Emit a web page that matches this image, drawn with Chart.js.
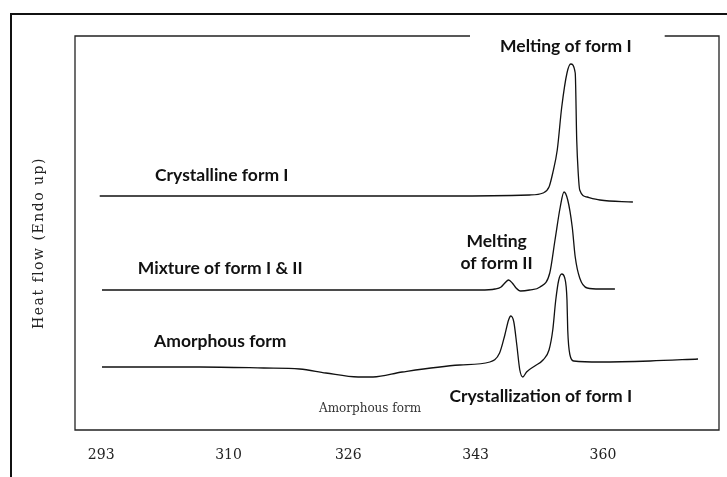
<!DOCTYPE html>
<html>
<head>
<meta charset="utf-8">
<script src="https://cdn.jsdelivr.net/npm/chart.js@4.4.1/dist/chart.umd.min.js"></script>
<style>
  html, body { margin: 0; padding: 0; background: #fff; }
  #wrap { position: relative; width: 727px; height: 477px; }
  #frame { position: absolute; left: 10px; top: 13px; right: 0; bottom: 0;
           border-left: 2px solid #111; border-top: 2px solid #111; pointer-events: none; }
</style>
</head>
<body>
<div id="wrap">
  <canvas id="dsc" width="727" height="477"></canvas>
  <div id="frame"></div>
</div>
<script>
// temperature ticks on the x axis
const tempTicks = [293, 310, 326, 343, 360];

// curves (x = temperature, y = heat flow, arbitrary units)
const crystallineT = [292.8, 319.5, 339.6, 350.2, 352.0, 352.8, 353.3, 353.9, 354.5, 355.2, 355.7, 356.3, 356.5, 356.7, 356.9, 357.9, 359.6, 364.0];
const crystallineQ = [234, 234, 234, 235, 237, 243, 257, 280, 323, 357, 366, 357, 290, 257, 240, 233, 230, 228];

const mixtureT = [293.1, 319.5, 343.6, 345.6, 346.4, 346.9, 347.4, 347.9, 348.4, 349.0, 350.2, 351.6, 352.9, 353.6, 354.3, 354.8, 355.3, 355.9, 356.3, 356.9, 357.9, 359.6, 361.6];
const mixtureQ = [140, 140, 140, 141, 143, 147, 150, 147, 142, 139, 140, 143, 157, 190, 223, 238, 230, 203, 173, 152, 142, 141, 141];

const amorphousT = [293.1, 306.2, 314.7, 319.5, 323.0, 327.3, 329.3, 333.2, 340.9, 344.9, 346.2, 346.9, 347.4, 347.7, 348.1, 348.5, 348.9, 349.3, 349.8, 350.9, 352.0, 352.8, 353.3, 353.7, 354.1, 354.5, 354.9, 355.2, 355.3, 355.6, 356.1, 359.6, 366.3, 372.7];
const amorphousQ = [63, 63, 62, 61, 57, 53, 53, 58, 65, 68, 77, 95, 110, 114, 108, 85, 60, 53, 58, 64, 70, 80, 100, 130, 150, 156, 152, 130, 100, 75, 69, 68, 69, 71];

// text notes placed in data coordinates
const bold = 'bold 17.5px Lato, "Open Sans", sans-serif';
const notes = [
  { text: 'Melting of form I', t: 355.05, q: 384, font: bold, color: '#111', gap: true },
  { text: 'Crystalline form I', t: 309.1, q: 255, font: bold, color: '#111' },
  { text: 'Melting', t: 345.8, q: 189, font: bold, color: '#111' },
  { text: 'of form II', t: 345.8, q: 167, font: bold, color: '#111' },
  { text: 'Mixture of form I & II', t: 308.9, q: 162, font: bold, color: '#111' },
  { text: 'Amorphous form', t: 308.9, q: 89, font: bold, color: '#111' },
  { text: 'Crystallization of form I', t: 351.7, q: 34, font: bold, color: '#111' },
  { text: 'Amorphous form', t: 328.9, q: 21, font: '12px "DejaVu Serif", serif', color: '#333' }
];

const toPoints = (ts, qs) => ts.map((t, i) => ({ x: t, y: qs[i] }));

const lineStyle = {
  borderColor: '#111',
  borderWidth: 1.3,
  pointRadius: 0,
  fill: false,
  cubicInterpolationMode: 'monotone'
};

const decor = {
  id: 'decor',
  afterDraw(chart) {
    const { ctx, chartArea: a, scales: { x, y } } = chart;
    ctx.save();
    ctx.textAlign = 'center';
    ctx.textBaseline = 'middle';

    let gapL = null, gapR = null;
    notes.forEach(n => {
      ctx.font = n.font;
      ctx.fillStyle = n.color;
      const px = x.getPixelForValue(n.t);
      ctx.fillText(n.text, px, y.getPixelForValue(n.q));
      if (n.gap) {
        const w = ctx.measureText(n.text).width;
        gapL = px - w / 2 - 30;
        gapR = px + w / 2 + 33;
      }
    });

    // plot box, with the top edge broken under the top note
    ctx.strokeStyle = '#222';
    ctx.lineWidth = 1.3;
    ctx.beginPath();
    ctx.moveTo(gapR, a.top);
    ctx.lineTo(a.right, a.top);
    ctx.lineTo(a.right, a.bottom);
    ctx.lineTo(a.left, a.bottom);
    ctx.lineTo(a.left, a.top);
    ctx.lineTo(gapL, a.top);
    ctx.stroke();

    // y title
    ctx.translate(a.left - 36, (a.top + a.bottom) / 2 + 10);
    ctx.rotate(-Math.PI / 2);
    ctx.font = '14px "DejaVu Serif", serif';
    ctx.letterSpacing = '1.5px';
    ctx.fillStyle = '#222';
    ctx.fillText('Heat flow (Endo up)', 0, 0);
    ctx.restore();
  }
};

new Chart(document.getElementById('dsc').getContext('2d'), {
  type: 'line',
  data: {
    datasets: [
      { label: 'Crystalline form I', data: toPoints(crystallineT, crystallineQ), ...lineStyle },
      { label: 'Mixture of form I & II', data: toPoints(mixtureT, mixtureQ), ...lineStyle },
      { label: 'Amorphous form', data: toPoints(amorphousT, amorphousQ), ...lineStyle }
    ]
  },
  options: {
    responsive: false,
    devicePixelRatio: 1,
    animation: false,
    layout: { padding: { left: 75, top: 36, right: 8, bottom: 12 } },
    plugins: { legend: { display: false }, tooltip: { enabled: false } },
    scales: {
      x: {
        type: 'linear',
        min: 289.5,
        max: 375.5,
        afterBuildTicks: scale => { scale.ticks = tempTicks.map(v => ({ value: v })); },
        afterFit: scale => { scale.height = 35; },
        grid: { display: false, drawTicks: false },
        border: { display: false },
        ticks: {
          padding: 17,
          color: '#222',
          font: { family: '"DejaVu Serif", serif', size: 14 },
          callback: v => String(v),
          maxRotation: 0
        }
      },
      y: {
        display: false,
        min: 0,
        max: 394
      }
    }
  },
  plugins: [decor]
});
</script>
</body>
</html>
